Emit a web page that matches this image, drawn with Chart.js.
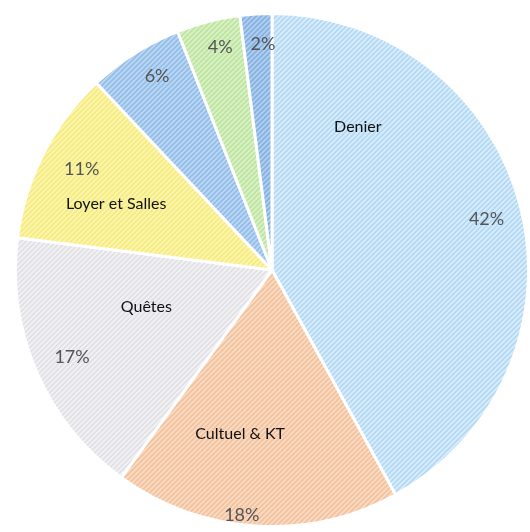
<!DOCTYPE html>
<html>
<head>
<meta charset="utf-8">
<script src="https://cdn.jsdelivr.net/npm/chart.js@4"></script>
<style>
html,body{margin:0;padding:0;background:#fff;}
#wrap{width:530px;height:532px;position:relative;}
</style>
</head>
<body>
<div id="wrap"><canvas id="c"></canvas></div>
<script>
// Data
const categories = ["Denier", "Cultuel & KT", "Quêtes", "Loyer et Salles", "", "", ""];
const values = [42, 18, 17, 11, 6, 4, 2];
const percentLabels = ["42%", "18%", "17%", "11%", "6%", "4%", "2%"];

// Styles
const baseColors = ["#b2d9f5", "#f3c29d", "#e0e0e5", "#f6ec7c", "#92bee9", "#bde59e", "#84b2e2"];
const lineColors = ["#dbedfb", "#f9dcc6", "#f3f3f5", "#fbf5b6", "#bed8f3", "#dbf1ca", "#b4d0ef"];

function makePattern(base, line) {
  const s = 5;
  const c = document.createElement('canvas');
  c.width = s; c.height = s;
  const g = c.getContext('2d');
  g.fillStyle = base; g.fillRect(0, 0, s, s);
  g.strokeStyle = line; g.lineWidth = 1.6;
  g.beginPath();
  g.moveTo(0, s); g.lineTo(s, 0);
  g.moveTo(-s/2, s/2); g.lineTo(s/2, -s/2);
  g.moveTo(s/2, s*1.5); g.lineTo(s*1.5, s/2);
  g.stroke();
  return g.createPattern(c, 'repeat');
}
const fills = baseColors.map((b, i) => makePattern(b, lineColors[i]));

// label placement: angle delta (deg) from slice mid angle, radius fraction
const namePos = [
  {da: -44.6, f: 0.65},
  {da: 7.4, f: 0.65},
  {da: 7.2, f: 0.51},
  {da: -4, f: 0.66},
  null, null, null
];
const pctPos = [
  {da: 1, f: 0.86},
  {da: 3.4, f: 0.965},
  {da: -0.1, f: 0.85},
  {da: 1, f: 0.84},
  {da: 1.8, f: 0.88},
  {da: 1.3, f: 0.89},
  {da: 1.3, f: 0.88}
];

const labelPlugin = {
  id: 'sliceLabels',
  afterDatasetsDraw(chart) {
    const ctx = chart.ctx;
    const meta = chart.getDatasetMeta(0);
    meta.data.forEach((arc, i) => {
      const p = arc.getProps(['x', 'y', 'startAngle', 'endAngle', 'outerRadius'], true);
      const mid = (p.startAngle + p.endAngle) / 2;
      const place = (pos) => {
        const a = mid + pos.da * Math.PI / 180;
        return [p.x + Math.cos(a) * p.outerRadius * pos.f, p.y + Math.sin(a) * p.outerRadius * pos.f];
      };
      ctx.save();
      ctx.textAlign = 'center';
      ctx.textBaseline = 'middle';
      if (namePos[i] && categories[i]) {
        const [x, y] = place(namePos[i]);
        ctx.fillStyle = '#111111';
        ctx.font = '16px Lato, "Open Sans", sans-serif';
        ctx.fillText(categories[i], x, y);
      }
      const [px, py] = place(pctPos[i]);
      ctx.fillStyle = '#555555';
      ctx.font = '18px Lato, "Open Sans", sans-serif';
      ctx.fillText(percentLabels[i], px, py);
      ctx.restore();
    });
  }
};

new Chart(document.getElementById('c'), {
  type: 'pie',
  data: {
    labels: categories,
    datasets: [{
      data: values,
      backgroundColor: fills,
      borderColor: '#ffffff',
      borderWidth: 3
    }]
  },
  options: {
    responsive: true,
    maintainAspectRatio: false,
    animation: false,
    layout: {padding: {left: 14, right: 0, top: 12, bottom: 4}},
    plugins: {legend: {display: false}, tooltip: {enabled: false}}
  },
  plugins: [labelPlugin]
});
</script>
</body>
</html>
